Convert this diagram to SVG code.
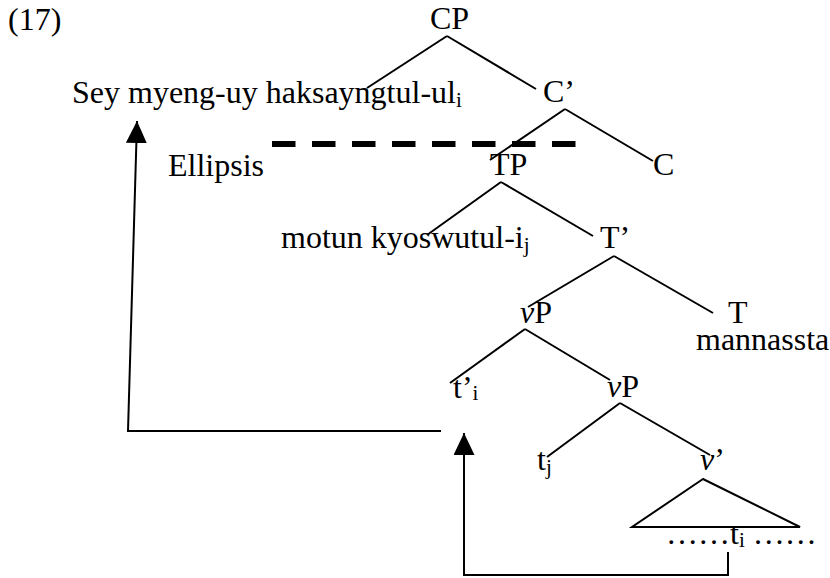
<svg xmlns="http://www.w3.org/2000/svg" width="830" height="578" viewBox="0 0 830 578">
<style>
text{font-family:"Liberation Serif","Times New Roman",serif;font-size:32px;fill:#000}
.sub{font-size:21px}
.it{font-style:italic}
.edge{stroke:#000;stroke-width:2;fill:none}
.arr{stroke:#000;stroke-width:2;fill:none;marker-end:url(#ah)}
</style>
<defs>
<marker id="ah" markerUnits="userSpaceOnUse" markerWidth="22" markerHeight="21" viewBox="0 0 22 21" refX="22" refY="10.5" orient="auto">
<path d="M0,0 L22,10.5 L0,21 z" fill="#000"/>
</marker>
</defs>
<rect width="830" height="578" fill="#fff"/>
<text x="8" y="30">(17)</text>
<g id="CP"><text x="430" y="29">CP</text></g>
<g id="spec-CP"><text x="72" y="103">Sey myeng-uy haksayngtul-ul<tspan class="sub" dy="4">i</tspan></text></g>
<g id="Cbar"><text x="543" y="102">C’</text></g>
<g id="ellipsis-label"><text x="168" y="176">Ellipsis</text></g>
<g id="TP"><text x="490" y="175">TP</text></g>
<g id="C"><text x="653" y="175">C</text></g>
<g id="spec-TP"><text x="281" y="248">motun kyoswutul-i<tspan class="sub" dy="4">j</tspan></text></g>
<g id="Tbar"><text x="600" y="248">T’</text></g>
<g id="vP1"><text x="520" y="323"><tspan class="it">v</tspan>P</text></g>
<g id="T"><text x="728" y="323">T<tspan x="696" dy="27">mannassta</tspan></text></g>
<g id="t-prime-i"><text x="453" y="398">t’<tspan class="sub" dy="2">i</tspan></text></g>
<g id="vP2"><text x="607" y="397"><tspan class="it">v</tspan>P</text></g>
<g id="t-j"><text x="537" y="470">t<tspan class="sub" dy="4">j</tspan></text></g>
<g id="vbar"><text x="700" y="470"><tspan class="it">v</tspan>’</text></g>
<g id="vbar-content">
<polygon points="703,479 632,527 800,527" class="edge"/>
<text x="666" y="544">……t<tspan class="sub" dy="3">i</tspan><tspan dy="-3"> ……</tspan></text>
</g>
<g id="connectors">
<line x1="447" y1="36" x2="367" y2="88" class="edge"/>
<line x1="447" y1="36" x2="536" y2="89" class="edge"/>
<line x1="565" y1="109" x2="490" y2="160" class="edge"/>
<line x1="565" y1="109" x2="653" y2="161" class="edge"/>
<line x1="501" y1="182" x2="427" y2="235" class="edge"/>
<line x1="501" y1="182" x2="593" y2="236" class="edge"/>
<line x1="614" y1="256" x2="528" y2="307" class="edge"/>
<line x1="614" y1="256" x2="713" y2="313" class="edge"/>
<line x1="525" y1="329" x2="450" y2="383" class="edge"/>
<line x1="525" y1="329" x2="610" y2="380" class="edge"/>
<line x1="620" y1="403" x2="547" y2="457" class="edge"/>
<line x1="620" y1="403" x2="710" y2="455" class="edge"/>
<line x1="272" y1="144" x2="576" y2="144" stroke="#000" stroke-width="6" stroke-dasharray="23.5 16.5"/>
<path d="M728,552 V575 H464 V433" class="arr"/>
<path d="M441,431 H128 L137,121" class="arr"/>
</g>
</svg>
